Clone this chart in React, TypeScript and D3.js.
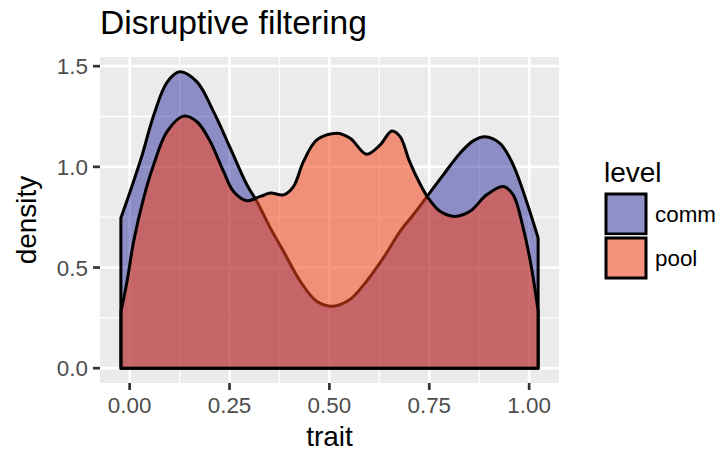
import React from "react";
import * as d3 from "d3";

const commTrait = [-0.022, 0.0, 0.03, 0.06, 0.0935, 0.125, 0.1685, 0.21, 0.252, 0.2935, 0.3185, 0.352, 0.385, 0.427, 0.468, 0.51, 0.552, 0.593, 0.635, 0.677, 0.71, 0.7475, 0.785, 0.827, 0.86, 0.889, 0.927, 0.96, 0.9935, 1.0225];
const commDensity = [0.746, 0.87, 1.05, 1.255, 1.42, 1.472, 1.422, 1.274, 1.093, 0.911, 0.828, 0.697, 0.581, 0.432, 0.333, 0.308, 0.342, 0.432, 0.548, 0.68, 0.762, 0.861, 0.96, 1.068, 1.129, 1.15, 1.117, 1.01, 0.828, 0.647];

const poolTrait = [-0.0215, -0.0065, 0.01, 0.035, 0.06, 0.0935, 0.135, 0.1685, 0.202, 0.235, 0.26, 0.2935, 0.327, 0.352, 0.385, 0.41, 0.435, 0.4685, 0.5185, 0.552, 0.593, 0.627, 0.656, 0.677, 0.70, 0.727, 0.7475, 0.777, 0.814, 0.852, 0.8935, 0.935, 0.96, 0.985, 1.006, 1.0225];
const poolDensity = [0.284, 0.432, 0.63, 0.845, 1.01, 1.175, 1.252, 1.224, 1.125, 0.977, 0.878, 0.832, 0.853, 0.87, 0.861, 0.902, 1.026, 1.134, 1.167, 1.142, 1.063, 1.109, 1.178, 1.15, 1.03, 0.915, 0.845, 0.779, 0.754, 0.779, 0.861, 0.902, 0.861, 0.697, 0.498, 0.284];

const levels = ["comm", "pool"];
const levelColors = ["#00008B", "#F4461A"];
const levelOpacity = [0.4, 0.55];
const xTicks = [0, 0.25, 0.5, 0.75, 1.0];
const xMinor = [0.125, 0.375, 0.625, 0.875];
const yTicks = [0, 0.5, 1.0, 1.5];
const yMinor = [0.25, 0.75, 1.25];

const FONT = "'Liberation Sans', Arial, Helvetica, sans-serif";

export default function App() {
  const W = 718, H = 453;
  const L = 100, R = 559, T = 57, B = 383;

  const allX = [...commTrait, ...poolTrait];
  const xmin = d3.min(allX)!, xmax = d3.max(allX)!;
  const xr = xmax - xmin;
  const x = d3.scaleLinear().domain([xmin - 0.05 * xr, xmax + 0.05 * xr]).range([L, R]);
  const ymax = d3.max([...commDensity, ...poolDensity])!;
  const y = d3.scaleLinear().domain([-0.05 * ymax, ymax * 1.05]).range([B, T]);

  const series = [
    { xs: commTrait, ys: commDensity },
    { xs: poolTrait, ys: poolDensity },
  ];
  const area = d3
    .area<[number, number]>()
    .x((d) => x(d[0]))
    .y0(() => y(0))
    .y1((d) => y(d[1]))
    .curve(d3.curveCatmullRom.alpha(0.5));

  const fmtX = (v: number) => v.toFixed(2);
  const fmtY = (v: number) => v.toFixed(1);

  return (
    <svg width={W} height={H} style={{ position: "absolute", left: 0, top: 0 }} fontFamily={FONT}>
      <rect x={0} y={0} width={W} height={H} fill="#ffffff" />
      <rect x={L} y={T} width={R - L} height={B - T} fill="#EBEBEB" />
      {xMinor.map((v) => (
        <line key={"xm" + v} x1={x(v)} x2={x(v)} y1={T} y2={B} stroke="#fff" strokeWidth={1.3} />
      ))}
      {yMinor.map((v) => (
        <line key={"ym" + v} x1={L} x2={R} y1={y(v)} y2={y(v)} stroke="#fff" strokeWidth={1.3} />
      ))}
      {xTicks.map((v) => (
        <line key={"xg" + v} x1={x(v)} x2={x(v)} y1={T} y2={B} stroke="#fff" strokeWidth={2.7} />
      ))}
      {yTicks.map((v) => (
        <line key={"yg" + v} x1={L} x2={R} y1={y(v)} y2={y(v)} stroke="#fff" strokeWidth={2.7} />
      ))}
      {series.map((s, i) => {
        const pts = s.xs.map((v, j) => [v, s.ys[j]] as [number, number]);
        return (
          <g key={levels[i]}>
            <path d={area(pts)!} fill={levelColors[i]} fillOpacity={levelOpacity[i]} stroke="none" />
            <path d={area(pts)!} fill="none" stroke="#000" strokeWidth={3} strokeLinejoin="round" />
          </g>
        );
      })}
      {xTicks.map((v) => (
        <g key={"xt" + v}>
          <line x1={x(v)} x2={x(v)} y1={B} y2={B + 7} stroke="#333" strokeWidth={2.7} />
          <text x={x(v)} y={413} textAnchor="middle" fontSize={22.4} fill="#4D4D4D">
            {fmtX(v)}
          </text>
        </g>
      ))}
      {yTicks.map((v) => (
        <g key={"yt" + v}>
          <line x1={L - 7} x2={L} y1={y(v)} y2={y(v)} stroke="#333" strokeWidth={2.7} />
          <text x={88} y={y(v)} dy="0.36em" textAnchor="end" fontSize={22.4} fill="#4D4D4D">
            {fmtY(v)}
          </text>
        </g>
      ))}
      <text x={(L + R) / 2} y={446} textAnchor="middle" fontSize={28} fill="#000">
        trait
      </text>
      <text transform={`translate(36,${(T + B) / 2}) rotate(-90)`} textAnchor="middle" fontSize={28} fill="#000">
        density
      </text>
      <text x={100} y={34} fontSize={33.6} fill="#000">
        Disruptive filtering
      </text>
      <text x={604} y={182} fontSize={28} fill="#000">
        level
      </text>
      {levels.map((lv, i) => (
        <g key={"lg" + lv}>
          <rect x={604} y={192 + i * 44} width={44} height={44} fill="#F2F2F2" stroke="#fff" strokeWidth={1.5} />
          <rect x={606} y={194 + i * 44} width={40} height={40} fill={levelColors[i]} fillOpacity={levelOpacity[i]} stroke="#000" strokeWidth={3} />
          <text x={655} y={214 + i * 44} dy="0.36em" fontSize={22.4} fill="#000">
            {lv}
          </text>
        </g>
      ))}
    </svg>
  );
}
